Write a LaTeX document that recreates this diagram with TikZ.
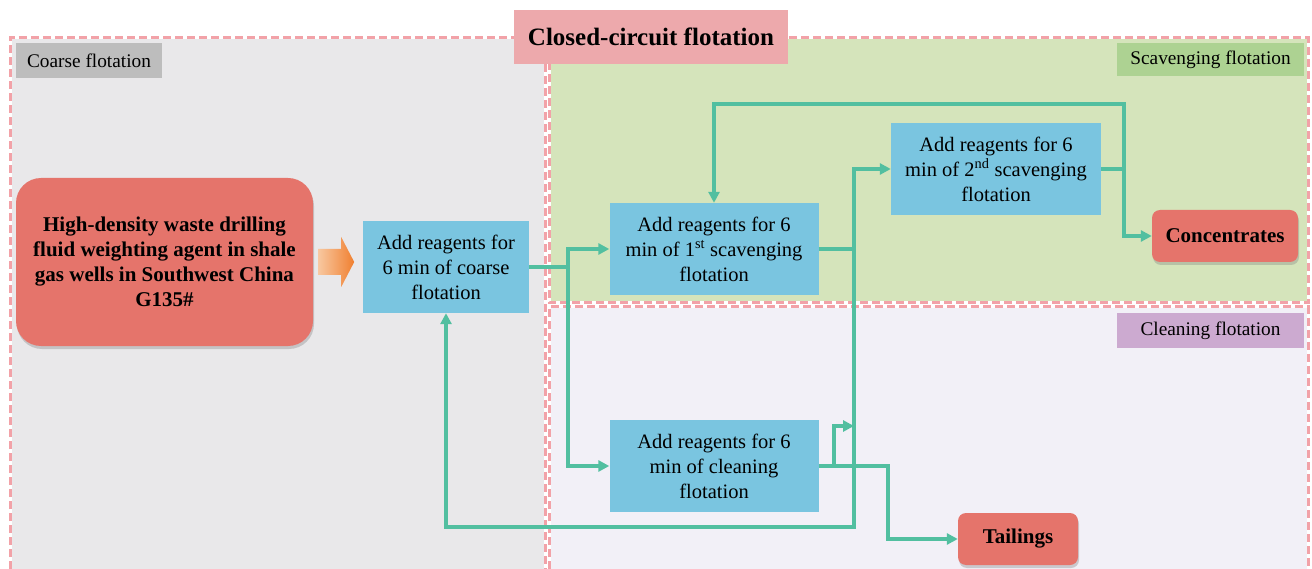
\documentclass[tikz,border=0pt]{standalone}
\usepackage{fontspec}
\setmainfont{Liberation Serif}
\usetikzlibrary{arrows.meta,shadows,calc}
\definecolor{teal1}{RGB}{82,191,160}
\definecolor{boxblue}{RGB}{122,197,224}
\definecolor{boxred}{RGB}{229,116,107}
\definecolor{titlepink}{RGB}{237,169,172}
\definecolor{dashpink}{RGB}{242,162,168}
\definecolor{coarsefill}{RGB}{233,232,234}
\definecolor{greenfill}{RGB}{213,228,187}
\definecolor{cleanfill}{RGB}{242,240,247}
\definecolor{labgray}{RGB}{189,189,189}
\definecolor{labgreen}{RGB}{173,210,146}
\definecolor{labpurple}{RGB}{204,170,208}
\definecolor{orangeA}{RGB}{248,200,160}
\definecolor{orangeB}{RGB}{240,128,48}
\tikzset{
  regionborder/.style={draw=dashpink,line width=3pt,dash pattern=on 8pt off 4pt},
  regionwhite/.style={draw=white,line width=3pt},
  procbox/.style={fill=boxblue,inner sep=0pt,align=center,font=\fontsize{20.5}{25}\selectfont},
  resbox/.style={fill=boxred,rounded corners=8pt,inner sep=0pt,align=center,
     font=\bfseries\fontsize{21}{24}\selectfont,drop shadow={shadow xshift=1pt,shadow yshift=-3pt,opacity=0.35}},
  reglabel/.style={inner sep=0pt,font=\fontsize{19.3}{22}\selectfont},
  flow/.style={draw=teal1,line width=3.2pt,-{Triangle[length=11pt,width=11pt]}},
}
\begin{document}
\begin{tikzpicture}[x=1pt,y=-1pt]
\useasboundingbox (0,0) rectangle (1312,569);
\fill[white] (0,0) rectangle (1312,569);
% regions
\fill[coarsefill] (10,38) rectangle (545,569);
\fill[greenfill] (549,38) rectangle (1308,303);
\fill[cleanfill] (549,307) rectangle (1308,569);
\draw[regionwhite] (10,569) -- (10,38) -- (545,38) -- (545,569);
\draw[regionborder] (10,569) -- (10,38) -- (545,38) -- (545,569);
\draw[regionwhite] (549,38) rectangle (1308,303);
\draw[regionborder] (549,38) rectangle (1308,303);
\draw[regionwhite] (549,569) -- (549,307) -- (1308,307) -- (1308,569);
\draw[regionborder] (549,569) -- (549,307) -- (1308,307) -- (1308,569);
% title
\node[fill=titlepink,minimum width=274pt,minimum height=54pt,inner sep=0pt,
  font=\bfseries\fontsize{25}{28}\selectfont] (title) at (651,37) {Closed-circuit flotation};
% region labels
\node[reglabel,fill=labgray,minimum width=146pt,minimum height=35pt] (lcoarse) at (89,60.5) {Coarse flotation};
\node[reglabel,fill=labgreen,minimum width=187pt,minimum height=33pt] (lscav) at (1210.5,59.5) {Scavenging flotation};
\node[reglabel,fill=labpurple,minimum width=187pt,minimum height=35pt] (lclean) at (1210.5,330.5) {Cleaning flotation};
% source
\node[fill=boxred,rounded corners=25pt,minimum width=297pt,minimum height=168pt,inner sep=0pt,align=center,
  font=\bfseries\fontsize{21}{25}\selectfont,
  drop shadow={shadow xshift=1pt,shadow yshift=-3pt,opacity=0.35}] (src) at (164.5,262)
  {High-density waste drilling\\fluid weighting agent in shale\\gas wells in Southwest China\\G135\#};
% process boxes
\node[procbox,minimum width=166pt,minimum height=92pt] (coarse) at (446,267) {Add reagents for\\6 min of coarse\\flotation};
\node[procbox,minimum width=209pt,minimum height=92pt] (scav1) at (714,249) {Add reagents for 6\\min of 1\textsuperscript{st} scavenging\\flotation};
\node[procbox,minimum width=209pt,minimum height=92pt] (clean) at (714,466) {Add reagents for 6\\min of cleaning\\flotation};
\node[procbox,minimum width=210pt,minimum height=92pt] (scav2) at (996,169) {Add reagents for 6\\min of 2\textsuperscript{nd} scavenging\\flotation};
\node[resbox,minimum width=146pt,minimum height=52pt] (conc) at (1225,236) {Concentrates};
\node[resbox,minimum width=120pt,minimum height=52pt] (tail) at (1018,539) {Tailings};
% orange arrow
\shade[left color=orangeA,right color=orangeB]
  ($(src.east)+(5,-13)$) -- ($(src.east)+(28,-13)$) -- ($(src.east)+(28,-25)$) --
  ($(src.east)+(41,0)$) -- ($(src.east)+(28,25)$) -- ($(src.east)+(28,13)$) --
  ($(src.east)+(5,13)$) -- cycle;
% junctions
\coordinate (j1) at (568,267);
\coordinate (j2) at (854,249);
\coordinate (j3) at (854,527);
\coordinate (j4) at (888,466);
\coordinate (j5) at (834,466);
\coordinate (j6) at (854,426);
\coordinate (j7) at (1124,169);
\coordinate (j8) at (1124,104);
% connectors
\draw[flow] (coarse.east) -- (j1) |- (scav1.west);
\draw[flow] (j1) |- (clean.west);
\draw[flow] (scav1.east) -- (j2) |- (scav2.west);
\draw[flow] (j2) -- (j3) -| (coarse.south);
\draw[flow] (clean.east) -- (j4) |- (tail.west);
\draw[flow] (j5) |- (j6);
\draw[flow] (scav2.east) -- (j7) |- (conc.west);
\draw[flow] (j7) -- (j8) -| (scav1.north);
\end{tikzpicture}
\end{document}
